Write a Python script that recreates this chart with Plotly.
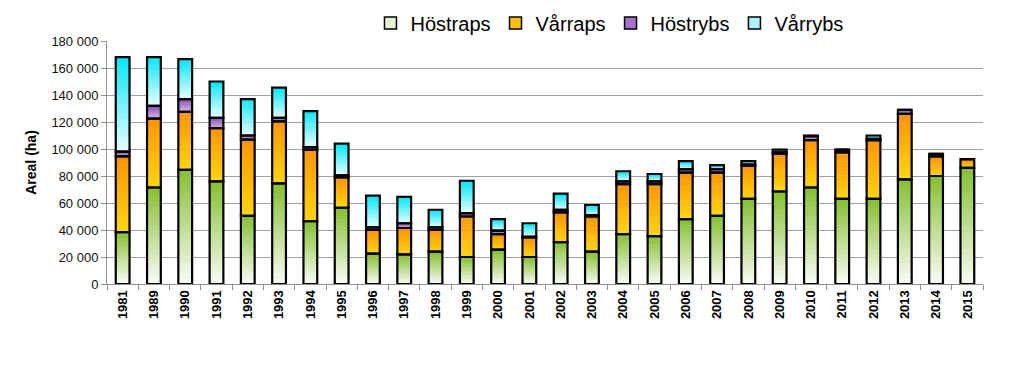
import numpy as np
import plotly.graph_objects as go

years = ["1981", "1989", "1990", "1991", "1992", "1993", "1994", "1995", "1996", "1997",
         "1998", "1999", "2000", "2001", "2002", "2003", "2004", "2005", "2006", "2007",
         "2008", "2009", "2010", "2011", "2012", "2013", "2014", "2015"]

hostraps = [38500, 71500, 84500, 76000, 50500, 74500, 46500, 56500, 22500, 22000,
            24000, 20000, 25500, 20000, 31000, 24000, 37000, 35500, 48000, 50500,
            63000, 68500, 71500, 63000, 63000, 77500, 80000, 86000]
varraps = [56000, 51000, 43000, 39500, 56500, 46000, 53000, 22500, 17500, 19500,
           16000, 30000, 11500, 14500, 22000, 26000, 37000, 38500, 34500, 32000,
           24500, 28000, 35000, 34500, 43500, 48500, 14500, 6500]
hostrybs = [3500, 9500, 9500, 7500, 3000, 2500, 2000, 1500, 2000, 3500,
            2000, 2500, 2500, 500, 2000, 1000, 2000, 2000, 2500, 2500,
            1000, 1000, 3000, 2000, 1000, 3000, 2000, 0]
varrybs = [70000, 36000, 29500, 27000, 27000, 22500, 26500, 23500, 23500, 19500,
           13000, 24000, 8500, 10000, 12000, 7500, 7500, 5500, 6000, 3000,
           2500, 2000, 500, 0, 2500, 0, 0, 0]

series_names = ["Höstraps", "Vårraps", "Höstrybs", "Vårrybs"]
series_values = [hostraps, varraps, hostrybs, varrybs]
# gradient colours (bottom, top) and legend swatch colour
grad = [((250, 252, 246), (132, 192, 44)),
        ((255, 214, 10), (255, 148, 0)),
        ((220, 190, 240), (140, 80, 180)),
        ((232, 255, 255), (0, 232, 248))]
legend_cols = ["#e4f2d0", "#ffc000", "#a673cc", "#a6f4fa"]

N = 20
fig = go.Figure()
base = np.zeros(len(years))
bases = []
for vals in series_values:
    bases.append(base.copy())
    base = base + np.array(vals, dtype=float)

for s, vals in enumerate(series_values):
    v = np.array(vals, dtype=float)
    b = bases[s]
    c0, c1 = grad[s]
    for k in range(N):
        t = (k + 0.5) / N
        col = "rgb(%d,%d,%d)" % tuple(int(round(c0[i] + (c1[i] - c0[i]) * t)) for i in range(3))
        h = v / N
        fig.add_trace(go.Bar(x=years, y=h * (1.0 if k == N - 1 else 1.15), base=b + k * h,
                             marker=dict(color=col, line=dict(width=0)),
                             showlegend=False, hoverinfo="skip"))

for s, vals in enumerate(series_values):
    fig.add_trace(go.Bar(x=years, y=vals, base=bases[s],
                         marker=dict(color="rgba(0,0,0,0)", line=dict(color="black", width=2.2)),
                         showlegend=False, hoverinfo="skip"))

for s, name in enumerate(series_names):
    fig.add_trace(go.Bar(x=[years[0]], y=[None], name=name,
                         marker=dict(color=legend_cols[s], line=dict(color="black", width=1.5))))

fig.update_layout(
    width=1016, height=368,
    margin=dict(l=99, r=41, t=33, b=92, autoexpand=False),
    barmode="overlay", bargap=0.56,
    plot_bgcolor="white", paper_bgcolor="white",
    separators=", ",
    font=dict(family="Liberation Sans, Arial, sans-serif", color="black"),
    legend=dict(orientation="h", xref="container", yref="container",
                x=0.592, xanchor="center", y=0.959, yanchor="middle",
                font=dict(size=20, color="black"), bgcolor="rgba(0,0,0,0)",
                itemwidth=30, traceorder="normal"),
)
fig.update_yaxes(range=[0, 180000], dtick=20000, tickformat=",d", automargin=False,
                 showgrid=True, gridcolor="#a0a0a0", gridwidth=1.3,
                 showline=True, linecolor="#909090", linewidth=1,
                 ticks="outside", ticklen=5, tickcolor="#909090",
                 tickfont=dict(size=13, color="#111"),
                 title=dict(text="<b>Areal (ha)</b>", font=dict(size=14, color="black"), standoff=11),
                 zeroline=False)
fig.update_xaxes(type="category", tickangle=-90, tickson="boundaries", automargin=False,
                 ticks="outside", ticklen=5, tickcolor="#909090",
                 showline=True, linecolor="#909090", linewidth=1,
                 tickfont=dict(size=13, color="black", weight="bold"),
                 showgrid=False)

fig.write_html("out.html")
